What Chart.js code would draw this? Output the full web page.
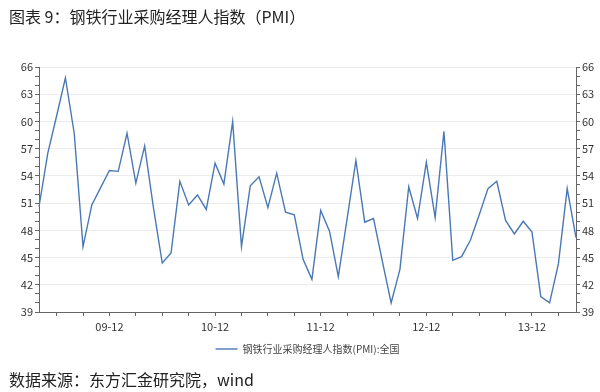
<!DOCTYPE html>
<html>
<head>
<meta charset="utf-8">
<script src="https://cdn.jsdelivr.net/npm/chart.js@4"></script>
<style>
  html,body{margin:0;padding:0;background:#fff;}
  #wrap{position:relative;width:600px;height:392px;overflow:hidden;}
  #chart{position:absolute;left:0;top:0;}
  .cap{position:absolute;left:9px;font-family:"Noto Sans CJK SC",sans-serif;font-size:16px;color:#222;white-space:nowrap;line-height:20px;}
  #title{top:6px;}
  #source{top:369px;}
</style>
</head>
<body>
<div id="wrap">
  <canvas id="chart" width="600" height="392"></canvas>
  <div class="cap" id="title">图表 9：钢铁行业采购经理人指数（PMI）</div>
  <div class="cap" id="source">数据来源：东方汇金研究院，wind</div>
</div>
<script>
// monthly labels, yy-mm, 2009-04 .. 2014-05
const months=[
  '09-04','09-05','09-06','09-07','09-08','09-09','09-10','09-11','09-12',
  '10-01','10-02','10-03','10-04','10-05','10-06','10-07','10-08','10-09','10-10','10-11','10-12',
  '11-01','11-02','11-03','11-04','11-05','11-06','11-07','11-08','11-09','11-10','11-11','11-12',
  '12-01','12-02','12-03','12-04','12-05','12-06','12-07','12-08','12-09','12-10','12-11','12-12',
  '13-01','13-02','13-03','13-04','13-05','13-06','13-07','13-08','13-09','13-10','13-11','13-12',
  '14-01','14-02','14-03','14-04','14-05'
];
const pmi=[
  50.6,56.5,60.6,64.8,58.7,46.2,50.8,52.7,54.6,
  54.5,58.7,53.2,57.3,50.5,44.4,45.5,53.4,50.8,51.9,50.3,55.4,
  53.1,60.0,46.2,52.9,53.9,50.5,54.3,50.0,49.7,44.8,42.6,50.2,
  47.9,42.9,49.3,55.7,48.9,49.3,44.6,40.0,43.7,52.8,49.3,55.5,
  49.4,58.9,44.7,45.1,46.9,49.7,52.6,53.4,49.1,47.6,49.0,47.8,
  40.7,40.0,44.3,52.6,47.2
];
const seriesName='钢铁行业采购经理人指数(PMI):全国';
const yMin=39, yMax=66;

const FONT='"Noto Sans CJK SC",sans-serif';
const monthOf=i=>parseInt(months[i].slice(3),10);

const yAxis=(pos,w)=>({
  position:pos,min:yMin,max:yMax,
  afterFit:s=>{s.width=w;},
  border:{display:true,color:'#666',width:1},
  grid:{
    drawOnChartArea:pos==='left',
    color:ctx=>((ctx.tick&&(ctx.tick.value-yMin)%3===0)?'#ececec':'transparent'),
    tickColor:'#666',tickLength:4
  },
  ticks:{
    stepSize:1,autoSkip:false,padding:2,color:'#333',
    font:{family:FONT,size:11},
    callback:v=>((v-yMin)%3===0?String(v):'')
  }
});

new Chart(document.getElementById('chart'),{
  type:'line',
  data:{
    labels:months,
    datasets:[{
      label:seriesName,
      data:pmi,
      yAxisID:'y',
      borderColor:'#4a78b5',
      backgroundColor:'#4a78b5',
      borderWidth:1.4,
      pointRadius:0,
      tension:0
    }]
  },
  options:{
    responsive:false,animation:false,
    layout:{padding:{top:67,bottom:28,left:0,right:0}},
    plugins:{
      legend:{
        position:'bottom',fullSize:false,
        labels:{
          usePointStyle:true,pointStyle:'line',pointStyleWidth:22,
          boxHeight:10,padding:4,color:'#444',
          font:{family:FONT,size:10}
        }
      },
      tooltip:{enabled:false}
    },
    scales:{
      x:{
        offset:false,
        afterFit:s=>{s.height=28;},
        border:{display:true,color:'#666',width:1},
        grid:{
          drawOnChartArea:false,tickLength:4,
          tickColor:ctx=>(monthOf(ctx.index)%3===0?'#666':'transparent')
        },
        ticks:{
          autoSkip:false,maxRotation:0,padding:4,color:'#333',
          font:{family:FONT,size:11},
          callback:(v,i)=>(monthOf(i)===12?months[i]:'')
        }
      },
      y:yAxis('left',39),
      y2:yAxis('right',24)
    }
  }
});
</script>
</body>
</html>
